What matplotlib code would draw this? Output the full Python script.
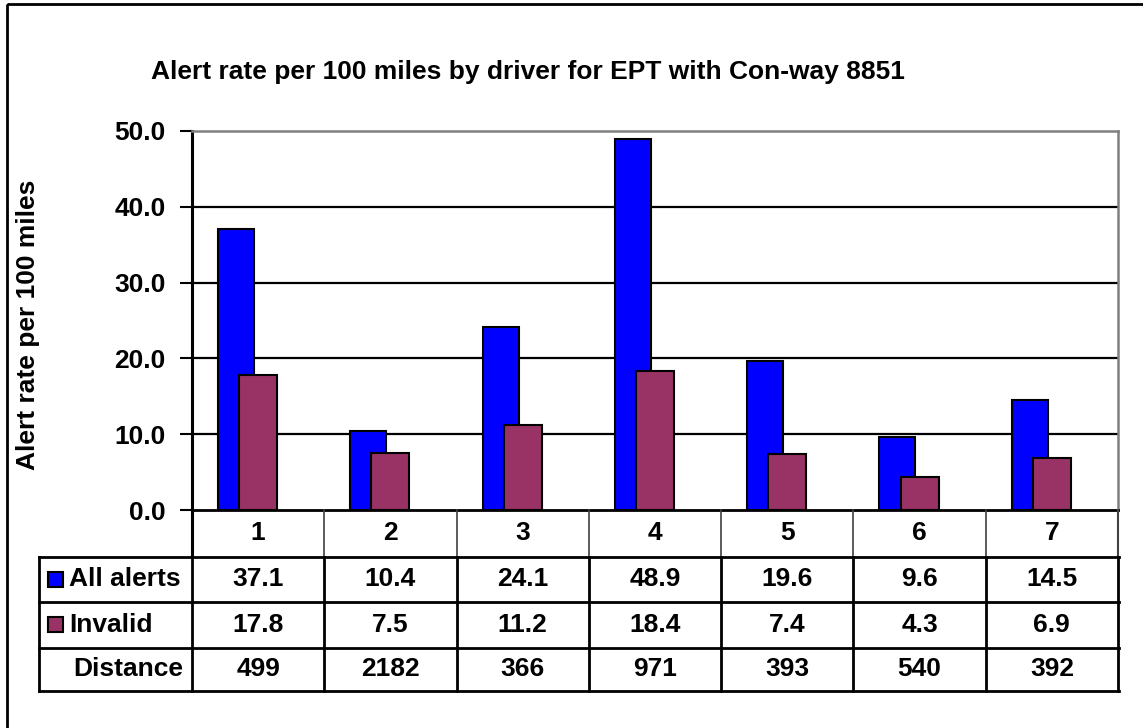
import numpy as np
import matplotlib.pyplot as plt
import matplotlib.transforms as mtransforms
from matplotlib.patches import Rectangle

# === Data ===
drivers = ["1", "2", "3", "4", "5", "6", "7"]
all_alerts = [37.1, 10.4, 24.1, 48.9, 19.6, 9.6, 14.5]
invalid = [17.8, 7.5, 11.2, 18.4, 7.4, 4.3, 6.9]
distance = [499, 2182, 366, 971, 393, 540, 392]
yticks = [0, 10, 20, 30, 40, 50]

BLUE = "#0000FF"
PLUM = "#993366"
W, H = 1143, 728
FS = 19

plt.rcParams["font.family"] = ["Liberation Sans", "DejaVu Sans"]
plt.rcParams["font.weight"] = "bold"

fig = plt.figure(figsize=(W / 100, H / 100), dpi=100)

# === main plot area (pixel box 192..1118 x 131..510) ===
ax = fig.add_axes([192 / W, (H - 510) / H, 926 / W, (510 - 131) / H])
x = np.arange(len(drivers))
ax.bar(x - 0.167, all_alerts, width=0.272, color=BLUE, edgecolor="black", linewidth=1.5, zorder=3)
ax.bar(x, invalid, width=0.287, color=PLUM, edgecolor="black", linewidth=1.5, zorder=4)
ax.set_xlim(-0.5, len(drivers) - 0.5)
ax.set_ylim(0, 50)
ax.set_yticks(yticks)
ax.set_yticklabels([f"{v:.1f}" for v in yticks], fontsize=FS, fontweight="bold")
ax.set_xticks([])
for v in yticks[1:-1]:
    ax.axhline(v, color="black", linewidth=1.6, zorder=1)
ax.tick_params(axis="y", length=9, width=1.5, pad=10)
ax.spines["left"].set_linewidth(2.2)
ax.spines["bottom"].set_linewidth(2)
for s in ("top", "right"):
    ax.spines[s].set_color("#808080")
    ax.spines[s].set_linewidth(1.8)
ax.set_ylabel("Alert rate per 100 miles", fontsize=FS, fontweight="bold")
ax.yaxis.set_label_coords((40 - 192) / 926, (510 - 325) / 379)

# === overlay in pixel coords for title, table and border ===
ov = fig.add_axes([0, 0, 1, 1])
ov.set_xlim(0, W)
ov.set_ylim(H, 0)
ov.axis("off")
ov.patch.set_alpha(0)

ov.text(528, 72, "Alert rate per 100 miles by driver for EPT with Con-way 8851",
        ha="center", va="center", fontsize=FS, fontweight="bold")
ov.add_patch(Rectangle((7, 4), W + 20, H + 20, fill=False, edgecolor="black", linewidth=2))

# table: x from category scale, y in pixels
bt = mtransforms.blended_transform_factory(ax.transData, ov.transData)
row_y = [510, 557, 602, 648, 691]
edges = np.arange(len(drivers) + 1) - 0.5
tab_left = 39

# header row
for e in edges[1:-1]:
    ov.plot([e, e], [row_y[0], row_y[1]], color="#404040", linewidth=1.2, transform=bt)
ov.plot([edges[0], edges[0]], [row_y[0], row_y[1]], color="black", linewidth=2.2, transform=bt)
ov.plot([edges[-1], edges[-1]], [row_y[0], row_y[1]], color="#404040", linewidth=1.5, transform=bt)
for i, d in enumerate(drivers):
    ov.text(i, (row_y[0] + row_y[1]) / 2, d, ha="center", va="center",
            fontsize=FS, fontweight="bold", transform=bt)

# data rows
for yy in row_y[1:]:
    ov.plot([tab_left, 1119], [yy, yy], color="black", linewidth=2)
ov.plot([tab_left, tab_left], [row_y[1], row_y[-1]], color="black", linewidth=2)
for e in edges:
    ov.plot([e, e], [row_y[1], row_y[-1]], color="black", linewidth=2, transform=bt)

rows = [("All alerts", BLUE, [f"{v:.1f}" for v in all_alerts]),
        ("Invalid", PLUM, [f"{v:.1f}" for v in invalid]),
        ("Distance", None, [str(v) for v in distance])]
for r, (label, col, vals) in enumerate(rows):
    yc = (row_y[r + 1] + row_y[r + 2]) / 2
    if col:
        ov.add_patch(Rectangle((48, yc - 8), 15, 15, facecolor=col, edgecolor="black", linewidth=1.5))
        ov.text(69, yc, label, ha="left", va="center", fontsize=FS, fontweight="bold")
    else:
        ov.text(73, yc, label, ha="left", va="center", fontsize=FS, fontweight="bold")
    for i, v in enumerate(vals):
        ov.text(i, yc, v, ha="center", va="center", fontsize=FS, fontweight="bold", transform=bt)

fig.savefig("out.png", dpi=100)
